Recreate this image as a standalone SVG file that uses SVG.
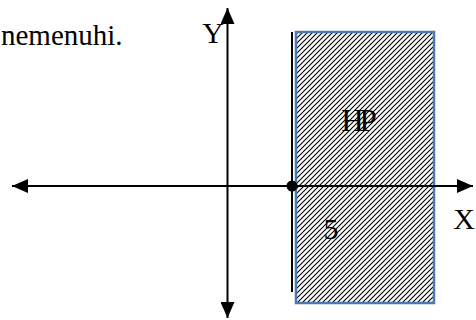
<svg xmlns="http://www.w3.org/2000/svg" width="476" height="320" viewBox="0 0 476 320">
<style>
.t{font-family:"Liberation Serif","Times New Roman",serif;fill:#000}
.ax{stroke:#000;stroke-width:2;fill:none}
</style>
<defs>
<marker id="ah" markerUnits="userSpaceOnUse" markerWidth="16" markerHeight="14" refX="16" refY="7" orient="auto-start-reverse">
<path d="M0,0 L16,7 L0,14 z" fill="#000"/>
</marker>
<pattern id="hatch" patternUnits="userSpaceOnUse" width="5" height="5">
<path d="M-1,6 L6,-1 M-1,1 L1,-1 M4,6 L6,4" stroke="#000" stroke-width="1.1"/>
</pattern>
</defs>
<rect width="476" height="320" fill="#fff"/>
<text class="t" x="1" y="45" font-size="29">nemenuhi.</text>
<g id="region">
<rect x="296" y="32" width="138" height="271" fill="url(#hatch)" stroke="#4a7ab0" stroke-width="2.5"/>
</g>
<g id="connectors">
<line class="ax" x1="12" y1="186" x2="473" y2="186" marker-start="url(#ah)" marker-end="url(#ah)"/>
<line class="ax" x1="227.5" y1="318" x2="227.5" y2="8" marker-start="url(#ah)" marker-end="url(#ah)"/>
</g>
<g id="boundary">
<line class="ax" x1="292" y1="32" x2="292" y2="292"/>
</g>
<g id="point">
<circle cx="292" cy="186" r="5.5" fill="#000"/>
</g>
<g id="labels">
<text class="t" x="213" y="43" font-size="30" text-anchor="middle">Y</text>
<text class="t" x="464" y="229" font-size="30" text-anchor="middle">X</text>
<text class="t" x="357" y="131" font-size="31" text-anchor="middle" letter-spacing="-4">HP</text>
<text class="t" x="331" y="239" font-size="30" text-anchor="middle">5</text>
</g>
</svg>
